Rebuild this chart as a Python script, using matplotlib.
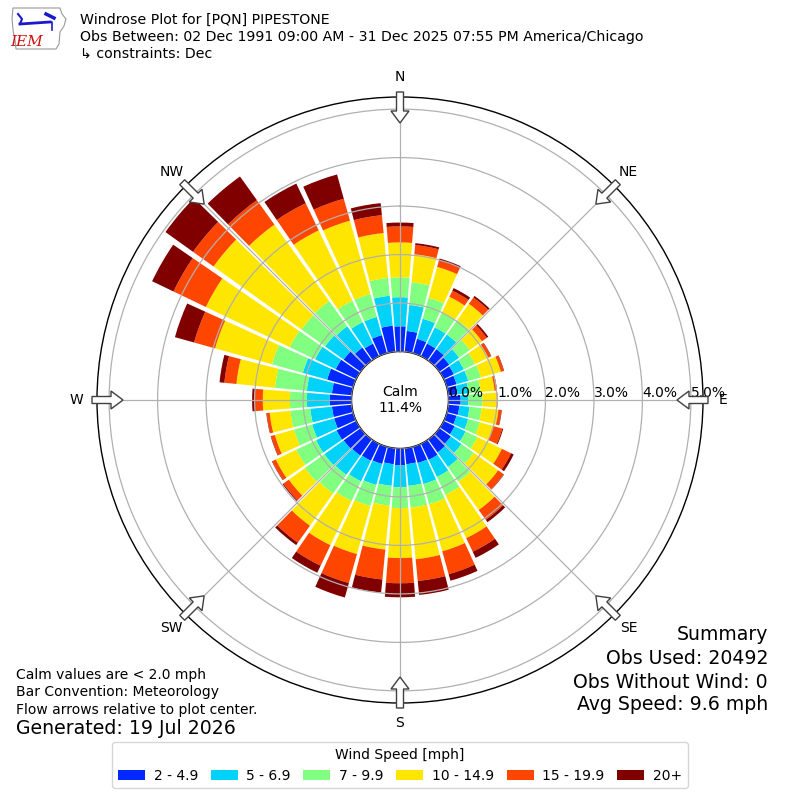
import numpy as np
import matplotlib
matplotlib.use('Agg')
import matplotlib.pyplot as plt
from matplotlib.patches import FancyArrow, Patch, Polygon

# ---------------- data ----------------
directions = list(range(0, 360, 10))
speed_labels = ['2 - 4.9', '5 - 6.9', '7 - 9.9', '10 - 14.9', '15 - 19.9', '20+']
speed_colors = ['#0028ff', '#00d2fa', '#80ff80', '#ffe600', '#ff4600', '#800000']

pct_2_5 = [0.52, 0.43, 0.31, 0.29, 0.29, 0.25, 0.23, 0.21, 0.19, 0.25, 0.23, 0.21,
           0.25, 0.29, 0.33, 0.37, 0.35, 0.33, 0.35, 0.33, 0.37, 0.39, 0.41, 0.43,
           0.45, 0.41, 0.41, 0.45, 0.41, 0.56, 0.47, 0.43, 0.33, 0.29, 0.39, 0.54]
pct_5_7 = [0.60, 0.54, 0.43, 0.37, 0.37, 0.25, 0.23, 0.25, 0.23, 0.16, 0.21, 0.25,
           0.25, 0.27, 0.37, 0.39, 0.45, 0.45, 0.45, 0.45, 0.45, 0.47, 0.49, 0.49,
           0.47, 0.47, 0.45, 0.47, 0.52, 0.52, 0.47, 0.47, 0.54, 0.49, 0.39, 0.62]
pct_7_10 = [0.41, 0.47, 0.45, 0.35, 0.37, 0.27, 0.25, 0.27, 0.25, 0.29, 0.25, 0.25,
            0.27, 0.31, 0.37, 0.41, 0.43, 0.45, 0.43, 0.41, 0.45, 0.45, 0.47, 0.49,
            0.45, 0.39, 0.41, 0.35, 0.66, 0.66, 0.58, 0.60, 0.64, 0.49, 0.49, 0.37]
pct_10_15 = [0.72, 0.58, 0.66, 0.35, 0.41, 0.31, 0.31, 0.43, 0.29, 0.31, 0.35, 0.29,
             0.56, 0.62, 0.72, 0.99, 1.01, 1.07, 1.03, 0.91, 1.03, 1.01, 0.82, 0.41,
             0.47, 0.41, 0.43, 0.56, 0.80, 1.22, 1.92, 2.23, 1.94, 1.61, 1.57, 0.93]
pct_15_20 = [0.33, 0.19, 0.14, 0.14, 0.16, 0.12, 0.06, 0.06, 0.04, 0.01, 0.06, 0.19,
             0.21, 0.14, 0.25, 0.31, 0.49, 0.45, 0.52, 0.62, 0.62, 0.47, 0.43, 0.14,
             0.08, 0.08, 0.06, 0.16, 0.25, 0.45, 0.74, 0.52, 0.62, 0.62, 0.47, 0.37]
pct_20_up = [0.08, 0.04, 0.04, 0.06, 0.04, 0.04, 0.01, 0.01, 0.01, 0.00, 0.01, 0.02,
             0.06, 0.01, 0.06, 0.14, 0.14, 0.29, 0.29, 0.27, 0.31, 0.16, 0.06, 0.02,
             0.01, 0.01, 0.01, 0.06, 0.10, 0.41, 0.49, 0.70, 0.60, 0.45, 0.52, 0.25]

calm_pct = 11.4
rticks = [0, 1, 2, 3, 4, 5]
rtick_labels = ['0.0%', '1.0%', '2.0%', '3.0%', '4.0%', '5.0%']
compass_angles = [0, 45, 90, 135, 180, 225, 270, 315]
compass_labels = ['N', 'NE', 'E', 'SE', 'S', 'SW', 'W', 'NW']

title_lines = ['Windrose Plot for [PQN] PIPESTONE',
               'Obs Between: 02 Dec 1991 09:00 AM - 31 Dec 2025 07:55 PM America/Chicago',
               '\u21b3 constraints: Dec']
notes = ['Calm values are < 2.0 mph', 'Bar Convention: Meteorology',
         'Flow arrows relative to plot center.']
generated = 'Generated: 19 Jul 2026'
summary = ['Summary', 'Obs Used: 20492', 'Obs Without Wind: 0', 'Avg Speed: 9.6 mph']

# ---------------- figure ----------------
fig = plt.figure(figsize=(8, 8), dpi=100)
R_PX = 303.0
ax = fig.add_axes([(400 - R_PX) / 800, (400 - R_PX) / 800, 2 * R_PX / 800, 2 * R_PX / 800],
                  projection='polar')
ax.set_theta_zero_location('N')
ax.set_theta_direction(-1)
ax.set_rorigin(-1.0)
ax.set_ylim(0, 5.25)

theta = np.radians(directions)
width = np.radians(8.8)
series = [pct_2_5, pct_5_7, pct_7_10, pct_10_15, pct_15_20, pct_20_up]
bottom = np.zeros(len(directions))
for vals, col in zip(series, speed_colors):
    v = np.array(vals)
    ax.bar(theta, v, width=width, bottom=bottom, color=col, edgecolor='none',
           linewidth=0, zorder=2, align='center')
    bottom = bottom + v

ax.set_axisbelow(False)
ax.grid(True, color='#b0b0b0', linewidth=0.9)
ax.set_xticks(np.radians(compass_angles))
ax.set_xticklabels(compass_labels, fontsize=10)
ax.tick_params(axis='x', pad=4)
ax.set_yticks(rticks)
ax.set_yticklabels([])
for r, lab in zip(rticks, rtick_labels):
    ax.text(np.pi / 2, r, lab, ha='left', va='bottom', fontsize=10, zorder=5)
for sp in ax.spines.values():
    sp.set_color('black')
    sp.set_linewidth(1.0)

ax.text(0.5, 0.5, 'Calm\n%.1f%%' % calm_pct, transform=ax.transAxes,
        ha='center', va='center', fontsize=10, linespacing=1.2)

# flow arrows
for a in compass_angles:
    s, c = np.sin(np.radians(a)), np.cos(np.radians(a))
    r0, r1 = 308.0 / 800, 277.0 / 800
    arr = FancyArrow(0.5 + r0 * s, 0.5 + r0 * c, (r1 - r0) * s, (r1 - r0) * c,
                     width=7 / 800, head_width=18 / 800, head_length=12 / 800,
                     length_includes_head=True, transform=fig.transFigure,
                     facecolor='white', edgecolor='#404040', linewidth=1.0, zorder=10)
    fig.add_artist(arr)

# titles
for t, y in zip(title_lines, [20, 37, 54]):
    fig.text(80 / 800, 1 - y / 800, t, ha='left', va='center', fontsize=10.2,
             family=['DejaVu Sans'])

for t, y in zip(notes, [675, 692, 710]):
    fig.text(16 / 800, 1 - y / 800, t, ha='left', va='center', fontsize=10)
fig.text(16 / 800, 1 - 729 / 800, generated, ha='left', va='center', fontsize=13.6)

for t, y in zip(summary, [635, 659, 682, 705]):
    fig.text(768 / 800, 1 - y / 800, t, ha='right', va='center', fontsize=13.6)

# legend
handles = [Patch(facecolor=c, edgecolor='none', label=l) for c, l in zip(speed_colors, speed_labels)]
fig.legend(handles=handles, loc='lower center', bbox_to_anchor=(0.5, 0.006), ncol=6,
           title='Wind Speed [mph]', fontsize=10, title_fontsize=10, frameon=True,
           edgecolor='#cccccc', columnspacing=0.9, handletextpad=0.63, handlelength=1.95)

# simple IEM logo
lax = fig.add_axes([10 / 800, 1 - 52 / 800, 58 / 800, 46 / 800])
lax.set_xlim(0, 58)
lax.set_ylim(0, 46)
lax.axis('off')
outline = [(3, 44), (50, 44), (52, 38), (56, 33), (54, 26), (50, 20), (49, 8), (46, 3),
           (6, 3), (5, 12), (3, 22), (2, 34)]
lax.add_patch(Polygon(outline, closed=True, fill=False, edgecolor='#999999', linewidth=0.8))
lax.plot([10, 40], [28, 30], color='#1a1acc', lw=2)
lax.plot([8, 12, 10], [38, 33, 28], color='#1a1acc', lw=1.5)
lax.plot([36, 44], [38, 34], color='#1a1acc', lw=2.5)
lax.plot([40, 42, 42], [30, 30, 22], color='#1a1acc', lw=1.2)
lax.text(17, 10, 'IEM', color='#cc1111', fontsize=11, family='serif', style='italic',
         ha='center', va='center')

fig.savefig('out.png', dpi=100)
